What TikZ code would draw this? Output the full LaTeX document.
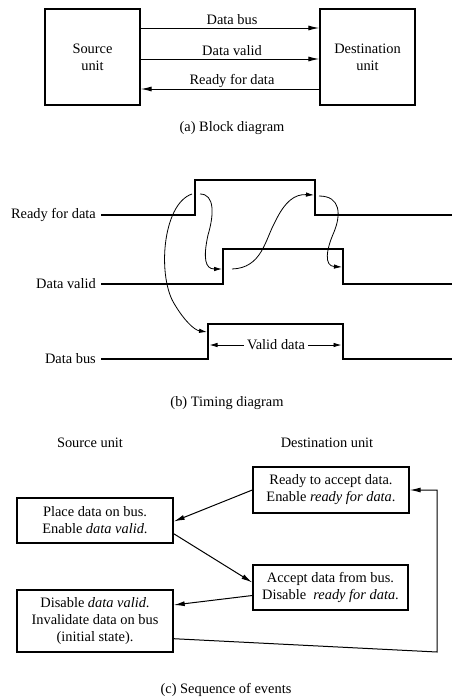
\documentclass[tikz,border=0pt]{standalone}
\usepackage{fontspec}
\setmainfont{Liberation Serif}
\usetikzlibrary{arrows.meta}
\begin{document}
\begin{tikzpicture}[x=1pt,y=-1pt,
  font=\fontsize{14.4}{17}\selectfont,
  box/.style={draw,line width=1.4pt,inner sep=0pt,align=center},
  arr/.style={line width=1pt,-{Latex[length=11pt,width=5pt]}},
  carr/.style={line width=0.8pt,-{Latex[length=8pt,width=4.5pt]}},
  sig/.style={line width=2.4pt,line join=miter},
  txt/.style={inner sep=0pt,align=center}]
\useasboundingbox (0,0) rectangle (452,699);
% ---------- (a) block diagram
\node[box,minimum width=95pt,minimum height=96pt] (source) at (92.5,57) {Source\\unit};
\node[box,minimum width=95pt,minimum height=96pt] (dest) at (367.5,57) {Destination\\unit};
\draw[arr] (source.east |- 0,28) -- (dest.west |- 0,28);
\draw[arr] (source.east |- 0,59) -- (dest.west |- 0,59);
\draw[arr] (dest.west |- 0,89) -- (source.east |- 0,89);
\node[txt] (lbus) at (232,20) {Data bus};
\node[txt] (lvalid) at (232,51) {Data valid};
\node[txt] (lready) at (232,81) {Ready for data};
\node[txt] (capa) at (232,128) {(a) Block diagram};
% ---------- (b) timing diagram
\node[txt,anchor=east] (tready) at (96,215) {Ready for data};
\node[txt,anchor=east] (tvalid) at (96,284) {Data valid};
\node[txt,anchor=east] (tbus) at (96,359) {Data bus};
\draw[sig] (101,215) -- (195,215) -- (195,180) -- (315,180) -- (315,215) -- (452,215);
\draw[sig] (101,284) -- (223,284) -- (223,249) -- (343,249) -- (343,284) -- (452,284);
\draw[sig] (101,359) -- (208,359) -- (208,324) -- (343,324) -- (343,359) -- (452,359);
\node[txt,fill=white,inner xsep=3pt] (vd) at (276,345) {Valid data};
\draw[carr] (vd.west) -- (209.5,345);
\draw[carr] (vd.east) -- (341.5,345);
\coordinate (c1s) at (192,194);
\coordinate (c1e) at (207,332);
\coordinate (c2s) at (200,194);
\coordinate (c2e) at (222,269);
\coordinate (c3s) at (232,269);
\coordinate (c3e) at (314,195);
\coordinate (c4s) at (319,196);
\coordinate (c4e) at (342,267);
\draw[carr] (c1s) .. controls (162,204) and (157,278) .. (175,305) .. controls (184,320) and (194,330) .. (c1e);
\draw[carr] (c2s) .. controls (215,194) and (214,215) .. (208,235) .. controls (203,258) and (205,269) .. (c2e);
\draw[carr] (c3s) .. controls (262,268) and (265,240) .. (275,222) .. controls (285,201) and (295,194) .. (c3e);
\draw[carr] (c4s) .. controls (341,196) and (341,215) .. (334,232) .. controls (326,250) and (324,266) .. (c4e);
\node[txt] (capb) at (227,403) {(b) Timing diagram};
% ---------- (c) sequence of events
\node[txt] (hsrc) at (90,443) {Source unit};
\node[txt] (hdst) at (327,443) {Destination unit};
\node[box,minimum width=156pt,minimum height=46pt] (ready) at (331,490) {Ready to accept data.\\Enable \textit{ready for data}.};
\node[box,minimum width=156pt,minimum height=45pt] (place) at (95,520.5) {Place data on bus.\\Enable \textit{data valid}.};
\node[box,minimum width=155pt,minimum height=45pt] (accept) at (330.5,587.5) {Accept data from bus.\\Disable \ \textit{ready for data}.};
\node[box,minimum width=156pt,minimum height=62pt] (disable) at (95,621) {Disable \textit{data valid}.\\Invalidate data on bus\\(initial state).};
\coordinate (loopc) at (437,652);
\draw[arr] (ready.west) -- ([yshift=-1pt]place.east);
\draw[arr] ([yshift=10pt]place.south east) -- ([yshift=5pt]accept.west);
\draw[arr] ([yshift=-8pt]accept.west) -- ([yshift=16pt]disable.east);
\draw[arr] ([yshift=14pt]disable.south east) -- (loopc) -- (loopc |- ready.east) -- (ready.east);
\node[txt] (capc) at (226,690) {(c) Sequence of events};
\end{tikzpicture}
\end{document}
